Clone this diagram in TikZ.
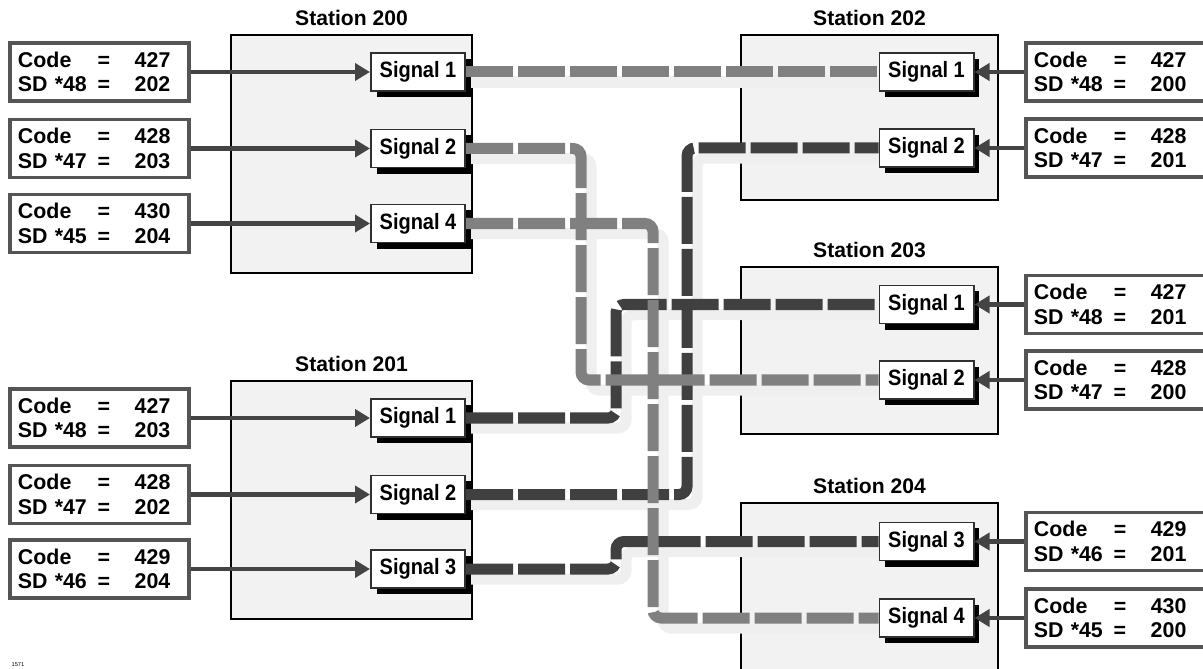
\documentclass[tikz,border=0pt]{standalone}
\usepackage{fontspec}
\setmainfont{Liberation Sans}
\newfontfamily\narrowsans{Liberation Sans}[FakeStretch=0.9]
\usetikzlibrary{arrows.meta, positioning, shadows}

\definecolor{stationfill}{HTML}{F2F2F2}
\definecolor{shadowgray}{HTML}{EFEFEF}
\definecolor{linklight}{HTML}{808080}
\definecolor{linkdark}{HTML}{404040}
\definecolor{feedgray}{HTML}{444444}
\definecolor{codeborder}{HTML}{555555}
\definecolor{signalborder}{HTML}{303030}

\newcommand{\codefont}{\bfseries\fontsize{15.2}{17.4}\selectfont}
\newcommand{\signalfont}{\narrowsans\bfseries\fontsize{15.8}{17}\selectfont}
\newcommand{\stationfont}{\bfseries\fontsize{15}{18}\selectfont}

% two lines of a code box
\newcommand{\codetext}[3]{%
  \makebox[2cm][l]{Code}\makebox[0.3cm]{=}\makebox[1.51cm][r]{#1}\\
  \makebox[2cm][l]{SD *#2}\makebox[0.3cm]{=}\makebox[1.51cm][r]{#3}}

\begin{document}
\begin{tikzpicture}[x=0.025cm, y=-0.025cm,
			station/.style={draw=black, line width=1.4pt, fill=stationfill, inner sep=0pt},
			stationtitle/.style={font=\stationfont, inner sep=0pt},
			signal/.style={draw=signalborder, line width=1.4pt, fill=white, minimum width=2.35cm, minimum height=0.95cm, inner sep=0pt, font=\signalfont,
				drop shadow={shadow xshift=0.14cm, shadow yshift=-0.15cm, fill=black, opacity=1}},
			codebox/.style={draw=codeborder, line width=2.2pt, fill=white, text width=4.075cm, minimum height=1.45cm, inner xsep=0.2cm, inner ysep=0pt, align=left, font=\codefont},
			feed/.style={draw=feedgray, line width=3.4pt, -{Triangle[length=0.375cm, width=0.425cm]}},
			link/.style={line width=0.275cm, rounded corners=0.2cm, dash pattern=on 1.175cm off 0.125cm},
			lightlink/.style={link, draw=linklight},
			darklink/.style={link, draw=linkdark},
			linkshadow/.style={line width=0.275cm, rounded corners=0.2cm, draw=shadowgray, transform canvas={xshift=0.25cm, yshift=-0.25cm}}
		]
		\useasboundingbox (0,0) rectangle (1203,669);

		% Draw the stations
		\node[station, minimum width=6.025cm, minimum height=5.95cm] (st200) at (351.5,154) {};
		\node[station, minimum width=6.025cm, minimum height=5.95cm] (st201) at (351.5,500) {};
		\node[station, minimum width=6.425cm, minimum height=4.125cm] (st202) at (869.5,117.5) {};
		\node[station, minimum width=6.425cm, minimum height=4.175cm] (st203) at (869.5,350.5) {};
		\node[station, minimum width=6.425cm, minimum height=4.425cm] (st204) at (869.5,591.5) {};

		\node[stationtitle, above=0.2cm of st200] {Station 200};
		\node[stationtitle, above=0.2cm of st201] {Station 201};
		\node[stationtitle, above=0.2cm of st202] {Station 202};
		\node[stationtitle, above=0.2cm of st203] {Station 203};
		\node[stationtitle, above=0.2cm of st204] {Station 204};

		% Channels for the links
		\coordinate (chA) at (581,0);
		\coordinate (chB) at (653,0);
		\coordinate (chC) at (616,0);
		\coordinate (chD) at (687,0);

		% Signal positions
		\coordinate (p200s1) at (418,72);
		\coordinate (p200s2) at (418,148.5);
		\coordinate (p200s4) at (418,223.5);
		\coordinate (p201s1) at (418,418);
		\coordinate (p201s2) at (418,494.5);
		\coordinate (p201s3) at (418,569);
		\coordinate (p202s1) at (926.5,72);
		\coordinate (p202s2) at (926.5,148);
		\coordinate (p203s1) at (926.5,304.5);
		\coordinate (p203s2) at (926.5,380);
		\coordinate (p204s3) at (926.5,541.5);
		\coordinate (p204s4) at (926.5,618);

		% Link shadows
		\foreach \a/\b/\ch in {p201s1/p203s1/chC, p201s2/p202s2/chD, p201s3/p204s3/chC,
				p200s2/p203s2/chA, p200s4/p204s4/chB}
			\draw[linkshadow] (\a) -- (\a -| \ch) -- (\ch |- \b) -- (\b);
		\draw[linkshadow] (p200s1) -- (p202s1);

		% Draw the signals
		\node[signal] (s200s1) at (p200s1) {Signal 1};
		\node[signal] (s200s2) at (p200s2) {Signal 2};
		\node[signal] (s200s4) at (p200s4) {Signal 4};
		\node[signal] (s201s1) at (p201s1) {Signal 1};
		\node[signal] (s201s2) at (p201s2) {Signal 2};
		\node[signal] (s201s3) at (p201s3) {Signal 3};
		\node[signal] (s202s1) at (p202s1) {Signal 1};
		\node[signal] (s202s2) at (p202s2) {Signal 2};
		\node[signal] (s203s1) at (p203s1) {Signal 1};
		\node[signal] (s203s2) at (p203s2) {Signal 2};
		\node[signal] (s204s3) at (p204s3) {Signal 3};
		\node[signal] (s204s4) at (p204s4) {Signal 4};

		% Draw the links
		\draw[darklink] (s201s1.east) -- (s201s1.east -| chC) -- (chC |- s203s1.west) -- (s203s1.west);
		\draw[darklink] (s201s2.east) -- (s201s2.east -| chD) -- (chD |- s202s2.west) -- (s202s2.west);
		\draw[darklink] (s201s3.east) -- (s201s3.east -| chC) -- (chC |- s204s3.west) -- (s204s3.west);
		\draw[lightlink] (s200s1.east) -- (s202s1.west);
		\draw[lightlink] (s200s2.east) -- (s200s2.east -| chA) -- (chA |- s203s2.west) -- (s203s2.west);
		\draw[lightlink] (s200s4.east) -- (s200s4.east -| chB) -- (chB |- s204s4.west) -- (s204s4.west);

		% Draw the code boxes
		\node[codebox] (c200s1) at (99.5,72) {\codetext{427}{48}{202}};
		\node[codebox] (c200s2) at (99.5,148.5) {\codetext{428}{47}{203}};
		\node[codebox] (c200s4) at (99.5,223.5) {\codetext{430}{45}{204}};
		\node[codebox] (c201s1) at (99.5,418) {\codetext{427}{48}{203}};
		\node[codebox] (c201s2) at (99.5,494.5) {\codetext{428}{47}{202}};
		\node[codebox] (c201s3) at (99.5,569) {\codetext{429}{46}{204}};
		\node[codebox] (c202s1) at (1115.5,72) {\codetext{427}{48}{200}};
		\node[codebox] (c202s2) at (1115.5,148) {\codetext{428}{47}{201}};
		\node[codebox] (c203s1) at (1115.5,304.5) {\codetext{427}{48}{201}};
		\node[codebox] (c203s2) at (1115.5,380) {\codetext{428}{47}{200}};
		\node[codebox] (c204s3) at (1115.5,541.5) {\codetext{429}{46}{201}};
		\node[codebox] (c204s4) at (1115.5,618) {\codetext{430}{45}{200}};

		% Draw the arrows
		\foreach \s in {200s1, 200s2, 200s4, 201s1, 201s2, 201s3}
			\draw[feed] (c\s.east) -- (s\s.west);
		\foreach \s in {202s1, 202s2, 203s1, 203s2, 204s3, 204s4}
			\draw[feed] (c\s.west) -- (s\s.east);

		\node[font=\fontsize{4}{5}\selectfont, inner sep=0pt] (figno) at (18,665) {1571};

		\end{tikzpicture}
\end{document}
